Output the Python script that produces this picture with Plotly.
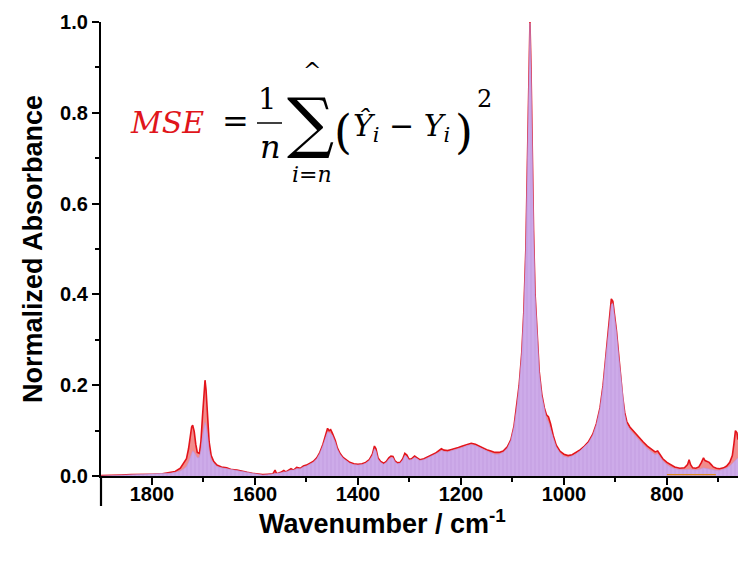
import plotly.graph_objects as go

# ---------------- data ----------------
wavenumber = [
    1899, 1880, 1860, 1840, 1820, 1800, 1780, 1765, 1755, 1745, 1738, 1733, 1729, 1726, 1723, 1721, 1718, 1715, 1712, 1708, 1705, 1702, 1699, 1697, 1695, 1692, 1689, 1685, 1680,
    1674, 1665, 1655, 1645, 1635, 1625, 1615, 1605, 1595, 1585, 1575, 1565, 1561, 1558, 1550, 1544, 1540, 1535, 1530, 1525, 1519, 1512, 1506, 1500,
    1494, 1487, 1480, 1474, 1468, 1463, 1459, 1456, 1453, 1450, 1447, 1444, 1440, 1435, 1429, 1422, 1416, 1408, 1400, 1392, 1385, 1378, 1372, 1368, 1365, 1361, 1356, 1350,
    1345, 1340, 1336, 1332, 1328, 1323, 1318, 1313, 1309, 1305, 1301, 1296, 1290, 1285, 1280, 1272, 1265, 1258, 1250, 1243, 1238, 1233, 1226, 1220, 1212, 1205, 1197, 1188, 1180, 1172, 1165, 1158, 1150, 1142, 1134, 1126, 1118,
    1110, 1103, 1097, 1092, 1087, 1082, 1078, 1074, 1071, 1068, 1066, 1064, 1062, 1059, 1056, 1052, 1048, 1043, 1038, 1034, 1030, 1026, 1021, 1015, 1008, 1000,
    992, 984, 976, 968, 960, 952, 944, 937, 930, 924, 919, 915, 911, 908, 905, 902, 898, 894, 890, 886, 882, 878, 872, 866, 860, 853, 846, 838, 830, 823, 818, 814, 808,
    800, 792, 785, 775, 766, 760, 757, 754, 750, 744, 738, 733, 729, 726, 722, 718, 714, 710, 704, 698, 690, 684, 678, 673, 670, 667, 664, 662,
]

measured = [
    .001, .001, .002, .003, .003, .004, .005, .007, .010, .017, .028, .038, .060, .085, .108, .112, .098, .070, .052, .050, .075, .130, .190, .211, .190, .135, .075, .045, .032,
    .024, .020, .018, .014, .013, .010, .008, .006, .004, .003, .004, .005, .013, .005, .008, .012, .009, .012, .016, .013, .019, .017, .022, .024,
    .028, .032, .040, .052, .070, .092, .105, .100, .102, .095, .088, .078, .062, .050, .041, .034, .030, .027, .026, .027, .030, .036, .048, .066, .060, .040, .032, .028,
    .032, .040, .044, .043, .033, .029, .030, .038, .050, .046, .037, .038, .044, .040, .036, .038, .042, .045, .050, .056, .060, .057, .056, .058, .060, .063, .066, .070, .072, .070, .066, .062, .058, .055, .052, .052, .055,
    .064, .080, .110, .150, .200, .270, .360, .500, .680, .870, 1.000, .900, .720, .540, .400, .300, .230, .180, .150, .135, .130, .115, .090, .068, .055, .048,
    .045, .047, .052, .058, .066, .076, .092, .115, .150, .200, .260, .310, .360, .390, .385, .360, .320, .270, .220, .175, .140, .120, .108, .100, .092, .084, .075, .066, .058, .053, .055, .048, .038,
    .030, .024, .020, .017, .018, .025, .036, .025, .018, .017, .020, .030, .040, .034, .032, .030, .025, .020, .017, .016, .018, .022, .030, .045, .070, .100, .095, .080,
]

predicted = [
    .000, .001, .002, .003, .003, .004, .005, .006, .008, .011, .016, .021, .030, .040, .050, .055, .052, .045, .040, .041, .055, .085, .110, .118, .110, .088, .055, .036, .028,
    .021, .018, .016, .013, .012, .009, .007, .005, .003, .002, .003, .004, .005, .005, .007, .009, .009, .011, .013, .013, .016, .016, .020, .022,
    .026, .030, .038, .050, .067, .087, .097, .095, .094, .090, .083, .074, .059, .048, .039, .032, .028, .025, .024, .025, .028, .034, .045, .060, .055, .037, .030, .026,
    .030, .037, .040, .040, .031, .027, .028, .035, .045, .042, .035, .036, .041, .038, .034, .036, .040, .043, .047, .052, .056, .054, .053, .055, .057, .060, .063, .067, .069, .067, .063, .059, .055, .051, .048, .048, .052,
    .061, .078, .108, .148, .198, .268, .358, .498, .678, .868, .998, .898, .718, .538, .398, .298, .228, .176, .144, .126, .118, .105, .084, .064, .051, .043,
    .041, .044, .049, .056, .064, .074, .090, .113, .148, .198, .258, .305, .350, .378, .380, .358, .318, .268, .218, .172, .136, .114, .102, .094, .086, .078, .069, .060, .052, .047, .049, .043, .033,
    .025, .019, .016, .014, .014, .015, .016, .015, .014, .013, .014, .016, .018, .017, .016, .015, .014, .013, .012, .012, .014, .017, .022, .028, .032, .036, .038, .040,
]

residual_x = [800, 760, 705]
residual_y = [0.003, 0.003, 0.003]

x_tick_step = 200
y_tick_step = 0.2

assert len(wavenumber) == len(measured) == len(predicted)

# ---------------- figure ----------------
W, H = 738, 567
L, R, T, B = 101, 0, 22, 91
PW, PH = W - L - R, H - T - B


def px(x):
    return (x - L) / PW


def py(y):
    return (H - B - y) / PH


fig = go.Figure()

fig.add_trace(go.Scatter(
    x=wavenumber, y=measured, mode="lines", fill="tozeroy",
    line=dict(color="#e3141b", width=1.6),
    fillcolor="rgba(232,70,70,0.62)",
    hoverinfo="skip", showlegend=False, cliponaxis=True,
))
fig.add_trace(go.Scatter(
    x=wavenumber, y=predicted, mode="lines", fill="tozeroy",
    line=dict(color="rgb(190,150,222)", width=0.6),
    fillcolor="rgb(203,168,231)",
    fillpattern=dict(shape="|", fgcolor="rgb(178,136,214)", bgcolor="rgb(205,171,233)",
                     size=4, solidity=0.2),
    hoverinfo="skip", showlegend=False,
))
fig.add_trace(go.Scatter(
    x=residual_x, y=residual_y, mode="lines",
    line=dict(color="#e08a1e", width=1.2),
    hoverinfo="skip", showlegend=False,
))

sans = "Liberation Sans, Arial, sans-serif"
tickfont = dict(family=sans, size=20, color="black", weight="bold")
titlefont = dict(family=sans, size=27, color="black", weight="bold")

fig.update_layout(
    width=W, height=H,
    margin=dict(l=L, r=R, t=T, b=B, autoexpand=False),
    paper_bgcolor="white", plot_bgcolor="white",
    xaxis=dict(
        range=[1899, 662], dtick=x_tick_step, tick0=0,
        showgrid=False, zeroline=False, automargin=False,
        showline=True, linecolor="black", linewidth=2.2,
        ticks="outside", ticklen=7, tickwidth=2.2, tickcolor="black",
        minor=dict(dtick=x_tick_step / 2, ticks="outside", ticklen=4, tickwidth=2, tickcolor="black"),
        tickfont=tickfont, ticklabelstandoff=-8,
    ),
    yaxis=dict(
        range=[0, 1.0], dtick=y_tick_step, tick0=0, tickformat=".1f",
        showgrid=False, zeroline=False, automargin=False,
        showline=True, linecolor="black", linewidth=2.2,
        ticks="outside", ticklen=7, tickwidth=2.2, tickcolor="black",
        minor=dict(dtick=y_tick_step / 2, ticks="outside", ticklen=4, tickwidth=2, tickcolor="black"),
        tickfont=tickfont,
        title=dict(text="Normalized Absorbance", font=titlefont, standoff=10),
    ),
)

# x-axis title (centred on the visible part of the frame, as in the original)
fig.add_annotation(text="Wavenumber / cm<sup>-1</sup>", xref="paper", yref="paper",
                   x=px(382), y=py(522), xanchor="center", yanchor="middle",
                   showarrow=False, font=titlefont)

# y-axis line continues below the zero line
fig.add_shape(type="line", xref="paper", yref="paper",
              x0=0, x1=0, y0=0, y1=py(506), line=dict(color="black", width=2.2))

# ---------------- equation ----------------
serif = "DejaVu Serif, Liberation Serif, serif"


def eq(text, x, y, size, color="black"):
    fig.add_annotation(text=text, xref="paper", yref="paper", x=px(x), y=py(y),
                       xanchor="center", yanchor="middle", showarrow=False,
                       font=dict(family=serif, size=size, color=color))


eq("<i>MSE</i>", 167, 122, 30, "#e0151b")
eq("=", 235, 121, 32)
eq("1", 267, 99, 29)
fig.add_shape(type="line", xref="paper", yref="paper",
              x0=px(257), x1=px(282), y0=py(123), y1=py(123),
              line=dict(color="black", width=1.5))
eq("<i>n</i>", 270, 147, 32)
eq("∑", 310, 122, 66)
eq("^", 312, 70, 22)
eq("<i>i</i>=<i>n</i>", 312, 174, 22)
eq("(", 343, 132, 46)
eq("<i>Ŷ</i><sub><i>i</i></sub> − <i>Y</i><sub><i>i</i></sub>", 401, 127, 30)
eq(")", 464, 132, 46)
eq("2", 485, 99, 24)

fig.write_html(
    "out.html",
    config={"displayModeBar": False},
    post_script="document.body.style.margin='0';document.body.style.overflow='hidden';",
)
